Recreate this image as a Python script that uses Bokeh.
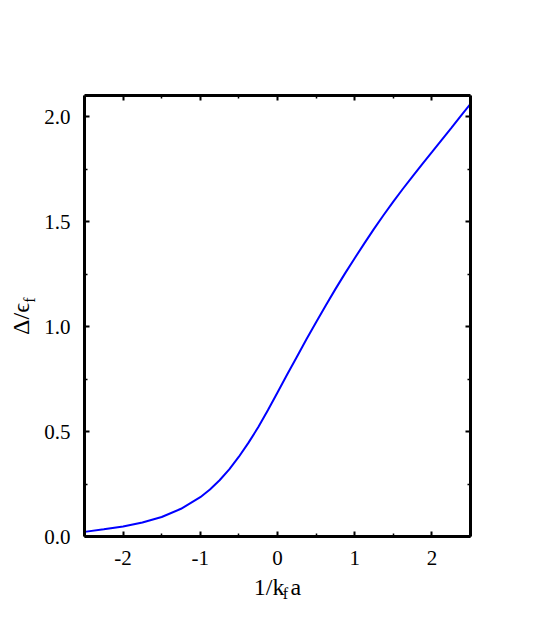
from bokeh.plotting import figure
from bokeh.models import LinearAxis, FixedTicker, Range1d
from bokeh.embed import file_html
from bokeh.resources import INLINE

# Data (mean-field gap vs coupling)
inv_kfa = [-2.5, -2.25, -2.0, -1.75, -1.5, -1.25, -1.0, -0.875, -0.75, -0.625,
           -0.5, -0.375, -0.25, -0.125, 0.0, 0.125, 0.25, 0.375, 0.5, 0.625,
           0.75, 0.875, 1.0, 1.125, 1.25, 1.375, 1.5, 1.625, 1.75, 1.875,
           2.0, 2.125, 2.25, 2.375, 2.5]
gap = [0.022, 0.034, 0.048, 0.067, 0.093, 0.132, 0.187, 0.224, 0.268, 0.32,
       0.38, 0.447, 0.52, 0.601, 0.686, 0.771, 0.855, 0.939, 1.02, 1.10,
       1.178, 1.253, 1.325, 1.396, 1.465, 1.531, 1.595, 1.656, 1.715, 1.773,
       1.83, 1.888, 1.945, 2.003, 2.06]

x_major = [-2, -1, 0, 1, 2]
x_minor = [-2.5, -1.5, -0.5, 0.5, 1.5, 2.5]
x_labels = ["-2", "-1", "0", "1", "2"]
y_major = [0.0, 0.5, 1.0, 1.5, 2.0]
y_minor = [0.25, 0.75, 1.25, 1.75]
y_labels = ["0.0", "0.5", "1.0", "1.5", "2.0"]

x_title_main = "1/k\u2005a"
x_title_sub = "\u2003f"
y_title_main = "\u0394/\u03f5\u2005"
y_title_sub = "\u2003\u2003f"

FONT = "Liberation Serif"
W, H = 545, 624

p = figure(width=W, height=H, output_backend="svg", toolbar_location=None,
           x_range=Range1d(-2.5, 2.5), y_range=Range1d(0, 2.1),
           x_axis_location=None, y_axis_location=None,
           min_border_left=84, min_border_right=75,
           min_border_top=95, min_border_bottom=88)
p.grid.visible = False
p.outline_line_color = None
p.background_fill_color = "white"
p.border_fill_color = "white"

def style(ax, labels, ticks, minor, show):
    ax.ticker = FixedTicker(ticks=ticks, minor_ticks=minor)
    ax.axis_line_width = 3
    ax.axis_line_color = "black"
    ax.major_tick_in = 5
    ax.major_tick_out = 0
    ax.major_tick_line_width = 2
    ax.minor_tick_in = 3
    ax.minor_tick_out = 0
    ax.minor_tick_line_width = 1.5
    ax.major_label_text_font = FONT
    ax.major_label_text_font_size = "21px"
    ax.major_label_text_color = "black"
    if show:
        ax.major_label_overrides = {t: l for t, l in zip(ticks, labels)}
    else:
        ax.major_label_overrides = {t: "" for t in ticks}

def title_style(ax, size):
    ax.axis_label_text_font = FONT
    ax.axis_label_text_font_size = size
    ax.axis_label_text_font_style = "normal"
    ax.axis_label_text_color = "black"

def ghost_axis(label, size, standoff):
    ax = LinearAxis(ticker=FixedTicker(ticks=[]))
    ax.axis_line_color = None
    ax.major_tick_line_color = None
    ax.minor_tick_line_color = None
    ax.major_tick_out = 0
    ax.minor_tick_out = 0
    ax.major_label_standoff = 0
    ax.axis_label = label
    ax.axis_label_standoff = standoff
    title_style(ax, size)
    return ax

xb = LinearAxis(); style(xb, x_labels, x_major, x_minor, True); xb.major_label_standoff = 14
xb.axis_label = x_title_main
xb.axis_label_standoff = 6
title_style(xb, "24px")
xt = LinearAxis(); style(xt, x_labels, x_major, x_minor, False)
yl = LinearAxis(); style(yl, y_labels, y_major, y_minor, True); yl.major_label_standoff = 14
yl.axis_label = y_title_sub
yl.axis_label_standoff = 3
title_style(yl, "16px")
yr = LinearAxis(); style(yr, y_labels, y_major, y_minor, False)

p.add_layout(xb, "below")
p.add_layout(ghost_axis(x_title_sub, "16px", -18), "below")
p.add_layout(xt, "above")
p.add_layout(yl, "left")
p.add_layout(ghost_axis(y_title_main, "24px", -15), "left")
p.add_layout(yr, "right")

p.line(inv_kfa, gap, line_color="#0000ff", line_width=2)

open("out.html", "w").write(file_html(p, INLINE))
